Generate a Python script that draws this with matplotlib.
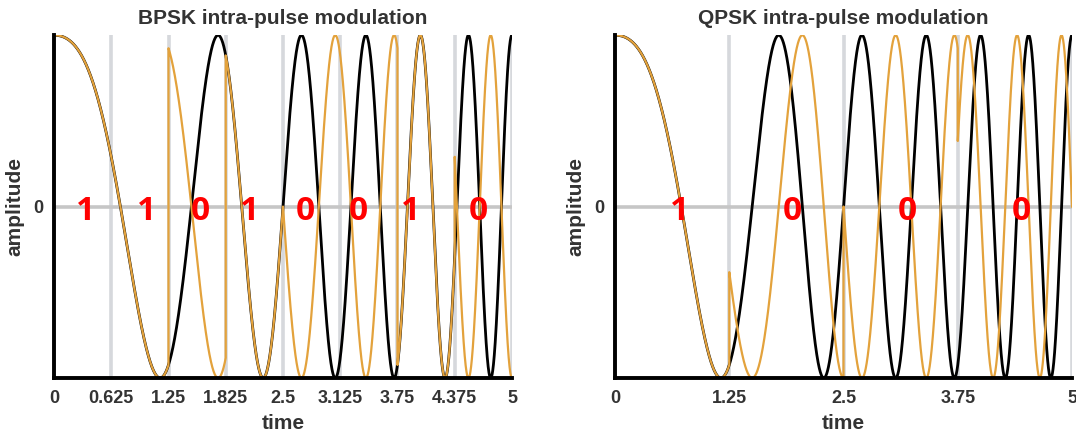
import numpy as np
import matplotlib
matplotlib.use('Agg')
from matplotlib import pyplot as plt

plt.rcParams['font.family'] = ['Liberation Sans', 'DejaVu Sans']

# chirp: phase/2pi = f0*t + k*t^2/2
f0 = 0.2
k = 0.4
t_end = 5.0

bpsk_bits = [1, 1, 0, 1, 0, 0, 1, 0]
bpsk_ticks = [0, 0.625, 1.25, 1.875, 2.5, 3.125, 3.75, 4.375, 5]
bpsk_ticklabels = ['0', '0.625', '1.25', '1.825', '2.5', '3.125', '3.75', '4.375', '5']
bpsk_label_x = [0.34, 1.01, 1.60, 2.14, 2.74, 3.32, 3.89, 4.63]

qpsk_labels = ['1', '0', '0', '0']
qpsk_phase_steps = [0, 1, 2, 3]  # multiples of pi/2
qpsk_ticks = [0, 1.25, 2.5, 3.75, 5]
qpsk_ticklabels = ['0', '1.25', '2.5', '3.75', '5']
qpsk_label_x = [0.71, 1.94, 3.20, 4.45]

orange = '#E3A23C'
grid_col = '#d6d8dc'

t = np.linspace(0, t_end, 40001)
phase = 2 * np.pi * (f0 * t + 0.5 * k * t ** 2)
carrier = np.cos(phase)

# BPSK: bit 0 flips the sign
nb = len(bpsk_bits)
idx = np.minimum((t / (t_end / nb)).astype(int), nb - 1)
bits_t = np.array(bpsk_bits)[idx]
bpsk = np.cos(phase + np.pi * (1 - bits_t))

# QPSK: phase steps of pi/2
nq = len(qpsk_phase_steps)
idx = np.minimum((t / (t_end / nq)).astype(int), nq - 1)
steps_t = np.array(qpsk_phase_steps)[idx]
qpsk = np.cos(phase - steps_t * np.pi / 2)

fig = plt.figure(figsize=(10.76, 4.4), dpi=100)
ax1 = fig.add_axes([0.0502, 0.141, 0.4256, 0.779])
ax2 = fig.add_axes([0.5716, 0.141, 0.4247, 0.779])

panels = [
    (ax1, bpsk, 'BPSK intra-pulse modulation', bpsk_ticks, bpsk_ticklabels,
     [str(b) for b in bpsk_bits], bpsk_label_x),
    (ax2, qpsk, 'QPSK intra-pulse modulation', qpsk_ticks, qpsk_ticklabels,
     qpsk_labels, qpsk_label_x),
]

for ax, sig, title, ticks, ticklabels, labels, lab_x in panels:
    for xv in ticks[1:]:
        ax.axvline(xv, color=grid_col, lw=2.6, zorder=0)
    ax.axhline(0, color='#c6c6c6', lw=2.6, zorder=0)
    ax.plot(t, carrier, color='black', lw=2.0, zorder=2)
    ax.plot(t, sig, color=orange, lw=1.6, zorder=3)
    for xl, s in zip(lab_x, labels):
        ax.text(xl, -0.03, s, color='#ff0000', fontsize=24, fontweight='bold',
                family=['Open Sans', 'DejaVu Sans'],
                ha='center', va='center', zorder=5)
    ax.set_xlim(0, t_end)
    ax.set_ylim(-1, 1)
    ax.set_xticks(ticks)
    ax.set_xticklabels(ticklabels)
    ax.set_yticks([0])
    ax.tick_params(length=0, labelsize=13, colors='#333333', pad=9)
    ax.tick_params(axis='y', pad=8)
    for lab in ax.get_xticklabels() + ax.get_yticklabels():
        lab.set_fontweight('bold')
    ax.spines['top'].set_visible(False)
    ax.spines['right'].set_visible(False)
    ax.spines['left'].set_linewidth(2.8)
    ax.spines['bottom'].set_linewidth(2.8)
    ax.spines['left'].set_zorder(6)
    ax.spines['bottom'].set_zorder(6)
    ax.set_title(title, fontsize=15, fontweight='bold', color='#333333', pad=8)
    ax.set_xlabel('time', fontsize=15, fontweight='bold', color='#333333', labelpad=5)
    ax.set_ylabel('amplitude', fontsize=15, fontweight='bold', color='#333333', labelpad=6)

fig.savefig('out.png', dpi=100)
